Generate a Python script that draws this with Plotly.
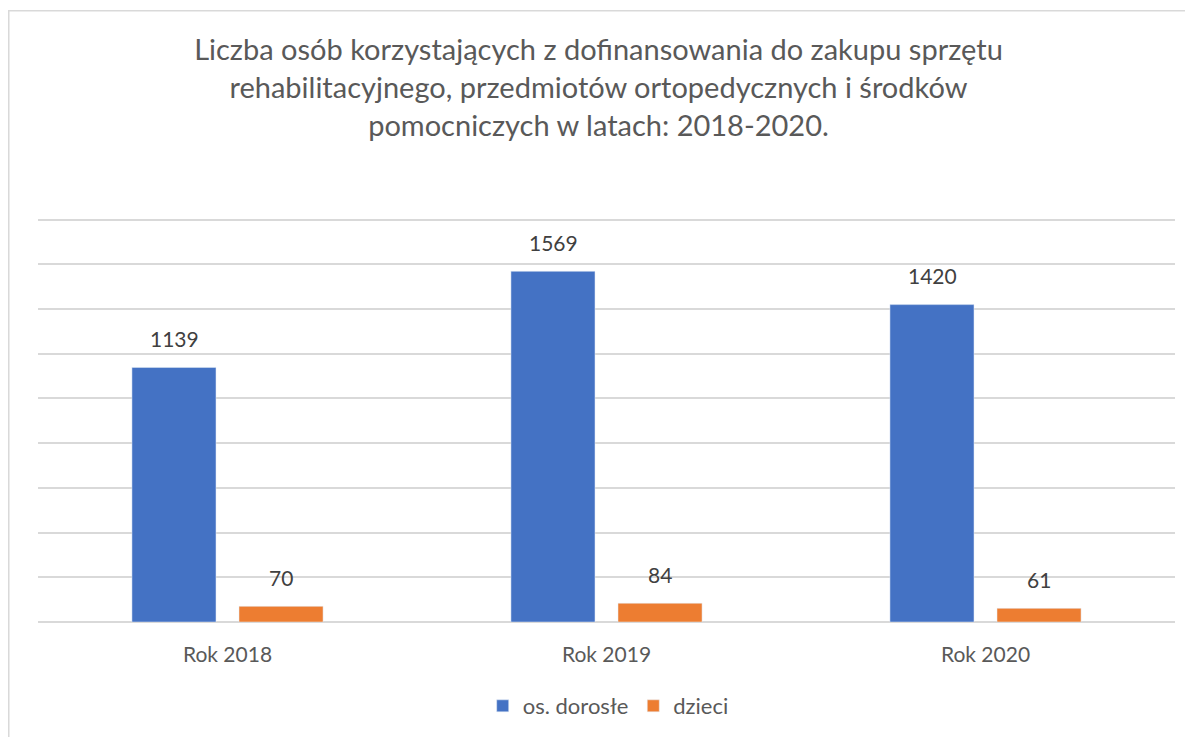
import plotly.graph_objs as go

categories = ["Rok 2018", "Rok 2019", "Rok 2020"]
adults = [1139, 1569, 1420]
children = [70, 84, 61]
series_names = ["os. dorosłe", "dzieci"]

title_text = (
    "Liczba osób korzystających z dofinansowania do zakupu sprzętu<br>"
    "rehabilitacyjnego, przedmiotów ortopedycznych i środków<br>"
    "pomocniczych w latach: 2018-2020."
)

FONT = "Lato, 'Open Sans', sans-serif"

fig = go.Figure(
    data=[
        go.Bar(
            x=categories,
            y=adults,
            name=series_names[0],
            marker=dict(color="#4472C4"),
        ),
        go.Bar(
            x=categories,
            y=children,
            name=series_names[1],
            marker=dict(color="#ED7D31"),
        ),
    ],
    layout=go.Layout(
        width=1185,
        height=729,
        margin=dict(l=30, r=18, t=209, b=115, autoexpand=False),
        paper_bgcolor="white",
        plot_bgcolor="white",
        font=dict(family=FONT, color="#595959", size=21),
        title=dict(
            text=title_text,
            x=0.4983,
            xref="container",
            xanchor="center",
            y=0.928,
            yref="container",
            yanchor="top",
            font=dict(family=FONT, size=29, color="#595959"),
        ),
        barmode="group",
        bargap=0.435,
        bargroupgap=0.215,
        xaxis=dict(
            showgrid=False,
            showline=False,
            ticks="",
            ticklabelstandoff=18,
            tickfont=dict(size=21, color="#595959"),
        ),
        yaxis=dict(
            range=[0, 1812],
            dtick=200,
            showgrid=True,
            gridcolor="#D9D9D9",
            gridwidth=1.5,
            showticklabels=False,
            zeroline=True,
            zerolinecolor="#D9D9D9",
            zerolinewidth=1.5,
        ),
        legend=dict(
            orientation="h",
            x=0.5065,
            xref="container",
            xanchor="center",
            y=0.0425,
            yref="container",
            yanchor="middle",
            font=dict(size=22, color="#595959"),
            traceorder="normal",
            itemwidth=30,
        ),
        showlegend=True,
        shapes=[
            dict(
                type="rect",
                xref="paper",
                yref="paper",
                x0=-0.0257,
                x1=1.2,
                y0=-0.4,
                y1=1.509,
                line=dict(color="#D9D9D9", width=1.5),
                fillcolor="rgba(0,0,0,0)",
                layer="below",
            )
        ],
    ),
)

# data labels above each bar, shifted to the bar's slot within its group
for values, shift in ((adults, -53.5), (children, 53.5)):
    for cat, v in zip(categories, values):
        fig.add_annotation(
            x=cat,
            y=v,
            text=str(v),
            showarrow=False,
            xshift=shift,
            yshift=29,
            font=dict(size=21, color="#404040"),
        )

fig.write_html("out.html")
